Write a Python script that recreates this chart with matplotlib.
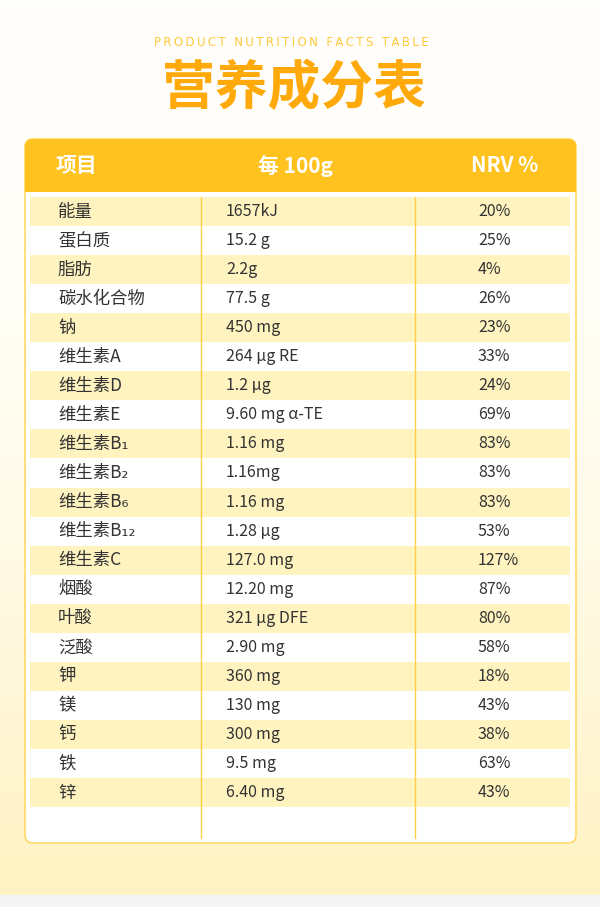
import matplotlib.pyplot as plt
from matplotlib.patches import FancyBboxPatch, Rectangle
import numpy as np

plt.rcParams['font.family'] = ['Noto Sans CJK SC', 'DejaVu Sans']

items = ['能量', '蛋白质', '脂肪', '碳水化合物', '钠', '维生素A', '维生素D', '维生素E',
         '维生素B₁', '维生素B₂', '维生素B₆', '维生素B₁₂', '维生素C', '烟酸', '叶酸', '泛酸',
         '钾', '镁', '钙', '铁', '锌']
amounts = ['1657kJ', '15.2 g', '2.2g', '77.5 g', '450 mg', '264 μg RE', '1.2 μg',
           '9.60 mg α-TE', '1.16 mg', '1.16mg', '1.16 mg', '1.28 μg', '127.0 mg',
           '12.20 mg', '321 μg DFE', '2.90 mg', '360 mg', '130 mg', '300 mg', '9.5 mg', '6.40 mg']
nrv = ['20%', '25%', '4%', '26%', '23%', '33%', '24%', '69%', '83%', '83%', '83%', '53%',
       '127%', '87%', '80%', '58%', '18%', '43%', '38%', '63%', '43%']
headers = ['项目', '每 100g', 'NRV %']
bold_rows = 5

fig = plt.figure(figsize=(6, 9.07), dpi=100)
ax = fig.add_axes([0, 0, 1, 1])
ax.set_xlim(0, 600)
ax.set_ylim(907, 0)
ax.axis('off')

# background gradient
grad = np.linspace(0, 1, 256).reshape(-1, 1) ** 2
top = np.array([1.0, 1.0, 0.99])
bot = np.array([1.0, 0.95, 0.76])
bg = top + (bot - top) * grad[..., None]
ax.imshow(bg, extent=[0, 600, 895, 0], aspect='auto', zorder=0)
ax.add_patch(Rectangle((0, 895), 600, 12, color='#f4f4f4', zorder=0))

sub = 'PRODUCT NUTRITION FACTS TABLE'
ax.text(291, 42, '\u2009'.join(sub), ha='center', va='center',
        fontsize=8.5, color='#FFC93A', family=['DejaVu Sans'])
ax.text(294, 88, '营养成分表', ha='center', va='center', fontsize=38,
        fontweight='bold', color='#FFAA0A')

# card
ax.add_patch(FancyBboxPatch((25, 139), 551, 704, boxstyle='round,pad=0,rounding_size=8',
                            fc='white', ec='#FFD966', lw=1.2, zorder=1))
ax.add_patch(FancyBboxPatch((25, 139), 551, 53, boxstyle='round,pad=0,rounding_size=8',
                            fc='#FFC21F', ec='none', zorder=2))
ax.add_patch(Rectangle((25, 180), 551, 12, fc='#FFC21F', ec='none', zorder=2))

hx = [56, 258, 505]
ha = ['left', 'left', 'center']
for x, h, a in zip(hx, headers, ha):
    ax.text(x, 166, h, ha=a, va='center', fontsize=15, fontweight='bold', color='white', zorder=3)

y0 = 197
rh = 29.05
for i, (it, am, nv) in enumerate(zip(items, amounts, nrv)):
    y = y0 + i * rh
    if i % 2 == 0:
        ax.add_patch(Rectangle((30, y), 540, rh, fc='#FFF3C0', ec='none', zorder=2))
    w = 'medium' if i < bold_rows else 'normal'
    yc = y + rh / 2
    ax.text(58, yc, it, ha='left', va='center', fontsize=12.5, fontweight=w, color='#333333', zorder=3)
    ax.text(226, yc, am, ha='left', va='center', fontsize=11.5, fontweight=w, color='#333333', zorder=3)
    ax.text(478, yc, nv, ha='left', va='center', fontsize=11.5, fontweight=w, color='#333333', zorder=3)

for x in [201, 415]:
    ax.plot([x, x], [197, 838], color='#FFCF4A', lw=1, zorder=4)

fig.savefig('out.png', dpi=100)
